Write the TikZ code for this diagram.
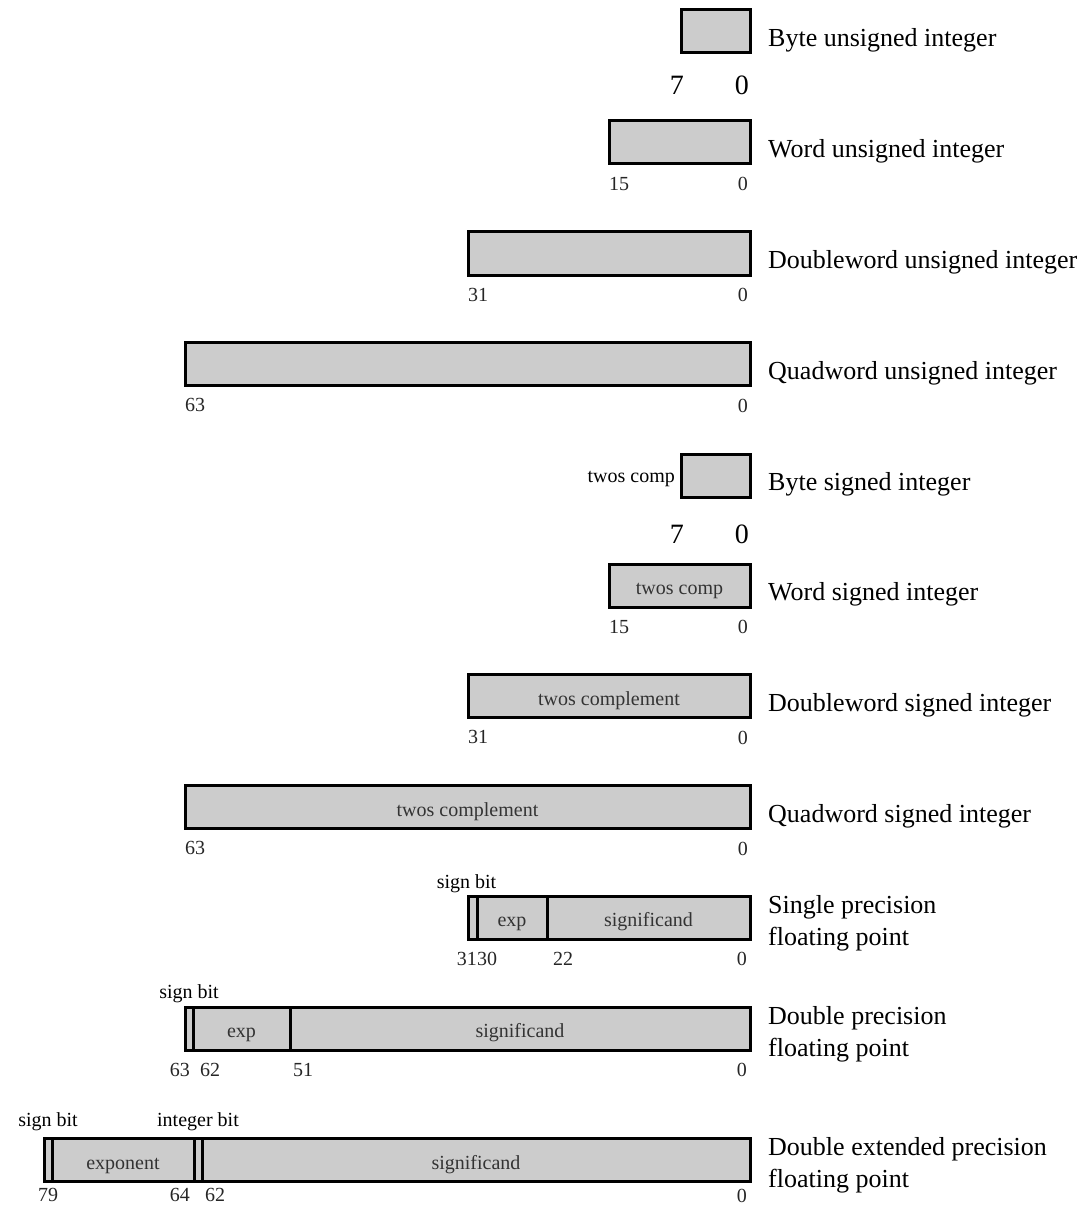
\documentclass[tikz,border=0pt]{standalone}
\usepackage{fontspec}
\setmainfont{Liberation Serif}
\usetikzlibrary{positioning}
\tikzset{
    field/.style={draw=black, line width=3pt, fill=black!20, minimum height=43pt, inner sep=0pt, outer sep=0pt, text=black!80, text height=18pt, text depth=0pt, font=\fontsize{20}{22}\selectfont},
    desc/.style={inner sep=0pt, align=left, font=\fontsize{26}{32}\selectfont},
    bitno/.style={inner sep=0pt, text=black!85, font=\fontsize{20}{22}\selectfont},
    bignum/.style={inner sep=0pt, font=\fontsize{28}{30}\selectfont},
    note/.style={inner sep=0pt, font=\fontsize{20}{22}\selectfont}
}

\begin{document}
\begin{tikzpicture}[x=1pt, y=-1pt]
    \useasboundingbox (0,0) rectangle (1088,1206);

    % unsigned integers
    \node [field, minimum width=69pt, anchor=east] (byteu) at (750,31.5) {};
    \node [desc, right=18pt of byteu.east, anchor=base west, yshift=-15pt] (byteutxt) {Byte unsigned integer};
    \node [bignum, below left=23pt and -3pt of byteu.south west] (byteuhi) {7};
    \node [bignum, below left=23pt and 1pt of byteu.south east] (byteulo) {0};

    \node [field, minimum width=141pt, anchor=east] (wordu) at (750,142.5) {};
    \node [desc, right=18pt of wordu.east, anchor=base west, yshift=-15pt] (wordutxt) {Word unsigned integer};
    \node [bitno, below right=13pt and 0pt of wordu.south west] (worduhi) {15};
    \node [bitno, below left=13pt and 2pt of wordu.south east] (wordulo) {0};

    \node [field, minimum width=282pt, anchor=east] (dwordu) at (750,253.5) {};
    \node [desc, right=18pt of dwordu.east, anchor=base west, yshift=-15pt] (dwordutxt) {Doubleword unsigned integer};
    \node [bitno, below right=13pt and 0pt of dwordu.south west] (dworduhi) {31};
    \node [bitno, below left=13pt and 2pt of dwordu.south east] (dwordulo) {0};

    \node [field, minimum width=565pt, anchor=east] (qwordu) at (750,364) {};
    \node [desc, right=18pt of qwordu.east, anchor=base west, yshift=-15pt] (qwordutxt) {Quadword unsigned integer};
    \node [bitno, below right=13pt and 0pt of qwordu.south west] (qworduhi) {63};
    \node [bitno, below left=13pt and 2pt of qwordu.south east] (qwordulo) {0};

    % signed integers
    \node [field, minimum width=69pt, anchor=east] (bytes) at (750,475.5) {};
    \node [note, left=6pt of bytes, yshift=-3pt] (bytescomp) {twos comp};
    \node [desc, right=18pt of bytes.east, anchor=base west, yshift=-15pt] (bytestxt) {Byte signed integer};
    \node [bignum, below left=28pt and -3pt of bytes.south west] (byteshi) {7};
    \node [bignum, below left=28pt and 1pt of bytes.south east] (byteslo) {0};

    \node [field, minimum width=141pt, anchor=east] (words) at (750,585.5) {twos comp};
    \node [desc, right=18pt of words.east, anchor=base west, yshift=-15pt] (wordstxt) {Word signed integer};
    \node [bitno, below right=13pt and 0pt of words.south west] (wordshi) {15};
    \node [bitno, below left=13pt and 2pt of words.south east] (wordslo) {0};

    \node [field, minimum width=282pt, anchor=east] (dwords) at (750,696) {twos complement};
    \node [desc, right=18pt of dwords.east, anchor=base west, yshift=-15pt] (dwordstxt) {Doubleword signed integer};
    \node [bitno, below right=13pt and 0pt of dwords.south west] (dwordshi) {31};
    \node [bitno, below left=13pt and 2pt of dwords.south east] (dwordslo) {0};

    \node [field, minimum width=565pt, anchor=east] (qwords) at (750,807) {twos complement};
    \node [desc, right=18pt of qwords.east, anchor=base west, yshift=-15pt] (qwordstxt) {Quadword signed integer};
    \node [bitno, below right=13pt and 0pt of qwords.south west] (qwordshi) {63};
    \node [bitno, below left=13pt and 2pt of qwords.south east] (qwordslo) {0};

    % single precision
    \node [field, minimum width=9pt, anchor=west] (ssgn) at (468,917.5) {};
    \node [field, minimum width=70pt, right=0pt of ssgn] (sexp) {exp};
    \node [field, minimum width=203pt, right=0pt of sexp] (ssig) {significand};
    \node [note, above=8pt of ssgn.north, anchor=base, xshift=-6pt] (ssgntxt) {sign bit};
    \node [desc, right=18pt of ssig, yshift=-5.5pt] (singletxt) {Single precision\\floating point};
    \node [bitno, below left=13pt and 0pt of ssgn.south east] (s31) {31};
    \node [bitno, below right=13pt and 0pt of sexp.south west] (s30) {30};
    \node [bitno, below right=13pt and 6pt of ssig.south west] (s22) {22};
    \node [bitno, below left=13pt and 3pt of ssig.south east] (s0) {0};

    % double precision
    \node [field, minimum width=8pt, anchor=west] (dsgn) at (185,1028.5) {};
    \node [field, minimum width=97pt, right=0pt of dsgn] (dexp) {exp};
    \node [field, minimum width=460pt, right=0pt of dexp] (dsig) {significand};
    \node [note, above=9pt of dsgn.north, anchor=base] (dsgntxt) {sign bit};
    \node [desc, right=18pt of dsig, yshift=-5.5pt] (doubletxt) {Double precision\\floating point};
    \node [bitno, below left=13pt and 3pt of dsgn.south east] (d63) {63};
    \node [bitno, below right=13pt and 7pt of dexp.south west] (d62) {62};
    \node [bitno, below right=13pt and 3pt of dsig.south west] (d51) {51};
    \node [bitno, below left=13pt and 3pt of dsig.south east] (d0) {0};

    % double extended precision
    \node [field, minimum width=8pt, anchor=west] (esgn) at (44,1160) {};
    \node [field, minimum width=142pt, right=0pt of esgn] (eexp) {exponent};
    \node [field, minimum width=8pt, right=0pt of eexp] (eint) {};
    \node [field, minimum width=548pt, right=0pt of eint] (esig) {significand};
    \node [note, above=12pt of esgn.north, anchor=base] (esgntxt) {sign bit};
    \node [note, above=12pt of eint.north, anchor=base] (einttxt) {integer bit};
    \node [desc, right=18pt of esig, yshift=-5.5pt] (exttxt) {Double extended precision\\floating point};
    \node [bitno, below=7pt of esgn.south] (e79) {79};
    \node [bitno, below left=7pt and 4pt of eexp.south east] (e64) {64};
    \node [bitno, below right=7pt and 3pt of eint.south east] (e62) {62};
    \node [bitno, below left=7pt and 3pt of esig.south east] (e0) {0};
\end{tikzpicture}
\end{document}
